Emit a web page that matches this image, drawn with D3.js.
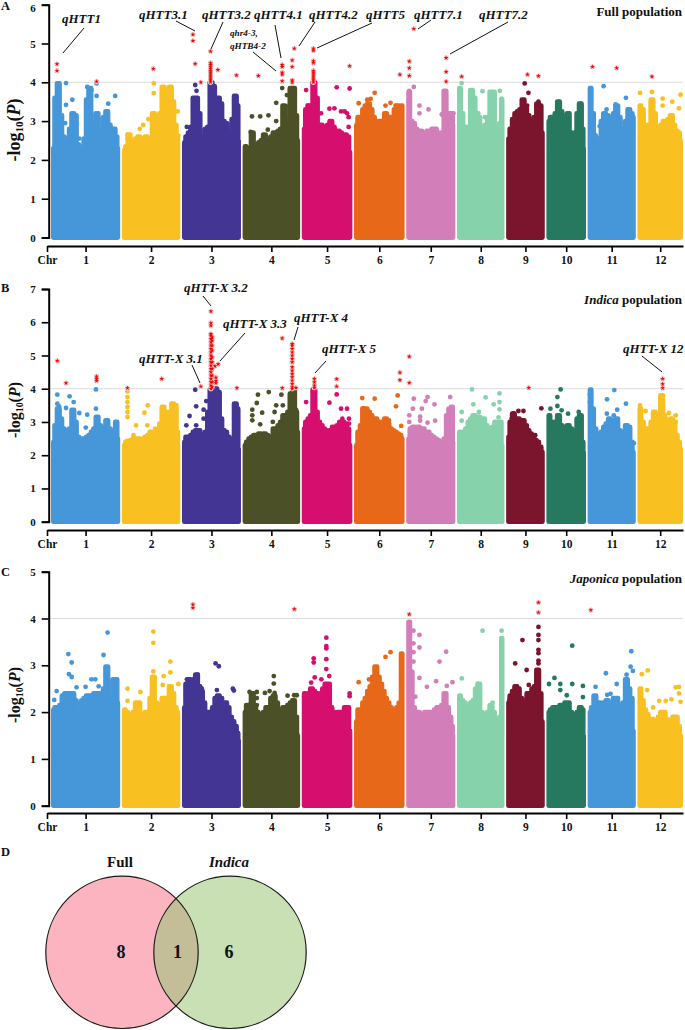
<!DOCTYPE html>
<html><head><meta charset="utf-8">
<script src="https://cdn.jsdelivr.net/npm/d3@7"></script>
<style>html,body{margin:0;padding:0;background:#fff}svg{display:block}text{font-family:"Liberation Serif",serif;font-weight:bold;fill:#111}</style>
</head><body><svg id="c" width="685" height="1030"></svg>
<script>
// Chromosomes (Mb)
const chromosomes = ["1","2","3","4","5","6","7","8","9","10","11","12"];
const chrLengths = [42.8,36.2,36.5,35.6,31.3,31.3,30.4,29.4,23.9,24.5,29.8,28.2];
const binMb = 1.5;

// Top of the dense mass per chromosome, read in consecutive 1.5 Mb windows (-log10 P)
const fullMass = [
 [2.1,2.3,3.6,3.97,3.15,2.6,2.4,2.5,2.8,3.2,3.15,2.4,2.25,2.2,2.55,3.55,3.85,2.9,2.5,3.2,2.7,2.5,3.1,3.25,2.9,2.75,2.8,2.6,2.3],
 [2.2,2.25,2.35,2.65,2.4,2.45,2.55,2.6,2.55,2.45,2.6,2.5,2.55,3.2,2.9,2.75,3.2,3.88,3.5,3.3,3.88,3.5,2.9,2.6,2.45],
 [2.2,2.45,2.6,2.7,2.85,3.6,3.6,3.2,2.6,2.5,2.8,2.85,4.0,3.9,3.3,3.6,3.45,3.0,2.95,2.7,2.4,3.05,3.65,3.4,2.5],
 [2.2,2.35,2.3,2.2,2.7,2.4,2.35,2.45,2.5,2.65,2.5,2.5,2.6,2.7,2.6,2.75,2.8,3.4,2.95,3.0,3.85,3.85,3.15,2.5],
 [2.6,2.8,3.3,3.4,3.2,4.0,3.6,2.9,2.9,2.8,2.85,2.9,3.0,2.85,2.7,2.75,2.7,2.65,2.65,2.6,2.2],
 [2.5,2.9,3.1,3.1,3.3,3.4,3.45,3.3,3.1,3.0,2.9,3.0,3.0,3.2,3.0,3.1,3.1,3.3,3.4,3.35,3.4],
 [3.0,3.75,3.0,2.95,2.8,2.75,2.75,2.7,2.7,2.75,2.75,2.8,2.8,2.7,2.65,2.7,3.78,3.2,3.2,3.2,2.9],
 [2.7,3.85,3.2,2.85,2.8,2.85,3.8,3.6,3.1,3.1,2.8,2.75,2.9,3.1,3.75,3.75,2.8,2.7,2.95,3.55],
 [2.5,2.55,2.8,3.05,3.2,3.25,3.3,3.55,3.35,3.15,3.0,3.0,3.1,3.45,3.4,2.7],
 [2.3,3.0,3.1,3.1,3.2,3.5,3.25,3.1,3.1,3.2,2.7,2.6,2.7,3.2,3.45,2.8,2.3],
 [2.6,3.85,3.2,2.6,2.45,2.5,3.0,3.2,3.15,3.1,3.1,3.2,3.4,3.1,2.8,2.8,3.0,3.3,3.2,3.1],
 [2.6,3.4,3.3,2.9,2.85,2.9,3.55,3.2,2.85,2.8,2.9,3.0,2.9,3.05,3.15,2.9,2.75,2.7,2.5]
];
// Separate points above the mass: [chromosome, position Mb, values...]
const fullDots = [
 [1,9.3,3.98,3.42],[1,13.2,3.55],[1,8.8,2.95],[1,17.5,2.55],[1,22.4,3.88],[1,25,3.8],[1,28.2,3.97,3.65],[1,39.7,3.65],[1,35.4,3.45],
 [2,19.8,3.97,3.72],[2,11.1,2.8],[2,13.2,2.9],[2,16.5,3.05],[2,34.6,3.25],[2,35,2.62],[2,3.5,2.65,2.55],
 [3,8.2,3.93],[3,9,3.78],[3,3,2.85],[3,25.3,3.0],[3,27.4,2.75],[3,29.4,2.48],
 [4,5.8,3.12],[4,10.9,3.12],[4,16,3.15],[4,20.8,3.47,3.0],[4,24.5,3.85],[4,27.4,3.67],[4,29,3.4],[4,15.6,2.78],[4,5,2.72],
 [5,2.7,3.8],[5,3.7,3.4],[5,21.6,3.87],[5,17.1,3.32],[5,20.2,3.33],[5,24.3,3.25],[5,11.9,3.2],[5,26.5,3.25],[5,29.6,3.84],[5,28,3.2],[5,29,3.1,2.85],
 [6,2.9,3.46],[6,8.2,3.55],[6,10.3,3.57],[6,12.8,3.73],[6,19.5,3.4],[6,22.6,3.47],[6,25.7,3.4],[6,24.7,2.85],[6,15.4,3.0],
 [7,4.7,3.88],[7,1.9,3.78],[7,8.2,3.4,3.2],[7,13.8,3.3],[7,22,3.17],[7,29.2,3.2],
 [8,2.9,3.98],[8,15.8,3.77],[8,26.5,3.78],[8,27.6,3.58],[8,17.3,3.1],[8,13.2,3.2],
 [9,11.5,3.97],[9,13.8,3.73],[9,13,3.4],[9,20,3.5],
 [10,7.4,3.49],[10,21.2,3.45],[10,8.4,3.2],
 [11,1.9,3.84],[11,9.9,3.9],[11,11.7,3.3],[11,17.3,3.43],[11,23.7,3.6],[11,5,2.63],[11,7.5,2.87],
 [12,1.6,3.73],[12,9,3.75],[12,15.6,3.58,3.4],[12,21.6,3.5],[12,26.7,3.68],[12,25.7,3.33]
];
// Significant points: [chromosome, position Mb, values...]
const fullHits = [
 [1,3.7,4.47,4.3],[1,28.2,4.02],[2,19.5,4.35],
 [3,6.8,5.23,5.07],[3,8.2,4.48],[3,11.7,4.0],[3,17.7,4.8,4.5,4.45,4.4,4.35,4.3,4.25,4.2,4.15,4.1,4.05,4.0],[3,22.2,4.32],[3,33.7,4.18],
 [4,9.7,4.17],[4,24.5,4.45,4.4,4.25,4.2,4.03],[4,30.7,4.57,4.4,4.05,4.0],[4,32,4.87],
 [5,7.2,4.87,4.82,4.55,4.5,4.3,4.25,4.2,4.15,4.1,4.05,4.0],[5,29.6,4.42],
 [6,28.4,4.2],[7,1.9,4.54,4.37,4.17],[7,4.7,5.38],[7,24.7,4.63,4.27,4.02],
 [8,2.9,4.15],[9,13.2,4.2],[9,20,4.16],[11,3,4.4],[11,18,4.37],[12,9,4.15]
];

const indicaMass = [
 [1.9,2.4,2.9,3.4,3.1,2.8,2.7,2.75,2.8,3.36,3.0,2.55,2.45,2.5,2.4,2.55,2.6,2.7,2.8,3.15,2.9,2.7,2.8,3.05,2.8,2.7,2.6,3.0,2.5],
 [2.0,2.3,2.4,2.4,2.45,2.5,2.5,2.5,2.45,2.5,2.55,2.6,2.7,2.6,2.7,2.7,2.95,3.45,3.3,3.0,3.3,3.55,3.5,2.7,2.3],
 [2.1,2.4,2.55,2.55,2.6,2.7,2.75,2.75,2.6,2.5,2.7,3.3,3.97,3.97,4.0,3.9,3.1,2.75,2.7,2.55,2.45,2.4,3.55,3.4,2.2],
 [2.1,2.3,2.4,2.5,2.55,2.6,2.6,2.65,2.6,2.65,2.6,2.55,2.55,2.8,2.7,2.9,3.0,3.2,3.15,3.3,3.85,3.97,3.3,2.7],
 [2.6,2.8,3.0,3.1,3.2,3.97,3.3,3.0,2.9,2.8,2.75,2.7,2.75,2.85,2.8,2.9,3.0,3.0,2.95,2.8,2.3],
 [2.2,2.3,2.7,2.9,3.41,3.4,3.3,3.2,3.1,3.1,3.0,2.9,3.0,3.1,2.95,2.8,2.75,2.7,2.65,2.6,2.5],
 [2.1,2.5,2.8,2.85,2.8,2.85,2.75,2.8,2.7,2.7,2.6,2.55,2.5,2.45,2.4,2.4,2.5,3.2,3.4,3.45,2.4],
 [2.15,2.7,2.6,2.7,2.8,3.0,3.1,3.2,3.15,3.15,3.1,3.1,2.9,2.8,2.7,2.85,3.0,2.9,3.0,2.3],
 [2.4,2.55,3.0,3.25,3.1,3.1,3.0,3.05,2.9,2.75,2.65,2.6,2.45,2.4,2.25,2.1],
 [2.2,3.2,3.0,2.85,3.0,3.2,2.9,2.7,2.85,2.9,2.8,2.6,2.7,3.1,3.2,2.4,2.1],
 [2.2,3.97,3.4,2.8,2.6,2.6,2.7,2.85,2.95,3.1,3.0,3.05,3.1,2.75,2.6,2.7,2.9,2.85,2.4,2.1],
 [2.3,3.4,3.0,2.75,2.8,2.8,3.0,3.3,3.0,3.0,3.8,3.2,3.0,3.05,3.1,3.0,2.6,2.4,2.2]
];
const indicaDots = [
 [1,3.9,3.82,3.55],[1,5,3.47],[1,9.3,3.42],[1,11.5,3.77],[1,14,3.6],[1,17.5,3.27],[1,22.4,3.22],[1,27.8,3.98,3.4],[1,21.5,2.83],
 [2,3.5,3.92,3.75,3.6,3.45,3.3,3.15],[2,16,3.5],[2,14,3.28],[2,15.8,2.9],[2,8.8,2.9],[2,20.6,2.8],[2,3.3,2.43],[2,7.2,2.6],
 [3,8.2,3.97],[3,8.8,3.47,2.9],[3,4.7,3.18],[3,2.7,2.9],[3,13.4,3.37,3.1],[3,15,3.63],[3,25.7,2.75],
 [4,9.5,3.82],[4,16.2,3.9],[4,24,3.82],[4,20.8,3.5],[4,8.8,3.57],[4,6,3.37,3.2,3.05],[4,12.1,3.28],[4,10.9,2.93],[4,19.8,3.3],[4,18.7,3.0],[4,24.9,3.5],[4,33.1,3.36],
 [5,2.7,3.6],[5,7.8,3.75],[5,17.1,3.58],[5,24.3,3.4],[5,21.6,3.83],[5,25.1,3.1],[5,28,3.4],[5,29.2,3.1,2.95],
 [6,5.1,3.72],[6,12.8,3.7],[6,27,3.8],[6,26,3.47],[6,29.2,2.88],[6,21.6,3.05],
 [7,4.7,3.7],[7,4.1,3.4],[7,9.7,3.4],[7,13.2,3.75],[7,12,3.63],[7,17.5,3.53],[7,27.2,3.75],[7,1.9,3.2,3.0],[7,8.6,3.16,3.04],[7,13.2,2.98],[7,17.9,3.04],
 [8,2.9,3.3,3.04],[8,9.3,3.98],[8,10.1,3.53],[8,13.6,3.3],[8,17.7,3.74],[8,22.7,3.53],[8,26.3,3.86,3.6,3.38],[8,25.7,3.14],
 [9,4.5,3.26],[9,7.6,3.33],[9,10.7,3.33,3.0],[9,3.5,3.1],[9,21.8,3.41],[9,18,2.6],
 [10,8.8,3.98],[10,6.8,3.75,3.48],[10,2.5,3.4],[10,9.4,3.35],[10,13.4,3.25],[10,20,3.3,3.06],
 [11,1.4,3.83,3.6],[11,16.5,3.96],[11,12,3.68],[11,23.7,3.55],[11,11.9,3.25],[11,18.3,3.37],[11,16.2,3.2],[11,28.6,2.36],
 [12,1.6,3.5],[12,5.1,3.33],[12,14.9,3.75],[12,19.5,3.27],[12,23.7,3.2,3.0],[12,11.3,3.05]
];
const indicaHits = [
 [1,3.9,4.84],[1,9.3,4.17],[1,28.2,4.37,4.3,4.24],[2,3.5,4.02],[2,24.7,4.3],
 [3,11.7,4.07],[3,17.9,6.33,5.98,5.9,5.65,5.6,5.5,5.4,5.3,5.2,5.1,5.0,4.9,4.8,4.7,4.6,4.5,4.4,4.3,4.2,4.1,4.0],[3,18.7,5.55,5.45,5.3,5.15,4.95,4.8,4.6,4.4,4.2,4.05],[3,20.4,4.68],[3,22.4,4.74],[3,21,4.34,4.24,4.17],[3,34,4.02],
 [4,24.5,5.52,4.02],[4,30.7,5.35,5.3,5.2,5.1,5.0,4.9,4.8,4.65,4.55,4.45,4.35,4.25,4.15,4.05,4.0],[4,33,4.03],
 [5,7.8,4.3,4.2,4.1,4.03],[5,21.6,4.29,4.07],
 [6,28.4,4.49,4.26],[7,1.9,4.97,4.18],[9,14,4.03],[12,15.6,4.3,4.14,4.02]
];

const japonicaMass = [
 [1.5,2.05,2.1,2.1,2.15,2.35,2.4,2.4,2.4,2.4,2.25,2.05,2.05,2.25,2.3,2.35,2.35,2.3,2.4,2.4,2.4,2.4,2.5,2.97,2.3,2.2,2.7,2.7,2.2],
 [1.5,2.05,2.0,1.9,1.9,2.0,2.2,2.2,1.9,1.95,2.0,2.0,2.3,2.75,2.2,2.1,2.15,2.3,2.3,2.3,2.55,2.4,2.1,2.0,1.9],
 [1.5,2.1,2.6,2.7,2.65,2.7,2.8,2.55,2.45,2.2,2.0,2.0,2.0,2.1,2.3,2.35,2.3,2.2,2.2,2.1,1.9,1.8,1.7,1.55,1.4],
 [1.5,2.0,2.15,2.1,2.4,2.1,2.0,1.95,1.9,2.0,2.1,2.1,2.3,2.35,2.2,2.05,2.0,2.1,2.1,2.15,2.2,2.25,1.9,1.5],
 [1.5,2.4,2.35,2.4,2.5,2.45,2.4,2.35,2.4,2.5,2.6,2.6,2.1,2.0,1.95,2.0,2.0,1.95,2.1,2.1,1.6],
 [1.6,1.8,2.05,2.05,2.2,2.3,2.45,2.55,2.75,2.97,2.75,2.6,2.45,2.3,2.2,2.1,2.0,2.0,2.1,2.2,3.25],
 [2.0,3.93,2.86,2.1,2.0,2.0,1.95,1.95,2.0,2.0,2.0,2.0,2.05,2.1,2.0,2.15,2.4,2.1,1.9,1.7,1.5],
 [1.5,2.35,2.25,2.2,2.05,2.1,2.2,2.25,2.5,2.6,2.0,1.95,1.95,2.0,2.15,2.0,1.85,1.85,1.9,3.58],
 [1.5,2.2,2.35,2.45,2.55,2.5,2.3,2.2,2.1,2.4,2.3,2.5,2.55,2.9,2.4,1.8],
 [1.6,2.0,2.05,2.1,2.1,2.1,2.15,2.15,2.2,2.2,2.0,1.9,1.95,2.0,2.1,2.05,1.5],
 [1.7,2.0,2.1,2.35,2.2,2.2,2.1,2.2,2.25,2.2,2.2,2.3,2.3,2.1,2.0,2.2,2.7,2.5,2.3,1.6],
 [1.5,2.5,2.25,2.05,1.95,1.85,1.85,1.8,1.75,1.9,2.0,2.0,1.85,1.75,1.8,1.9,1.9,1.7,1.5]
];
const japonicaDots = [
 [1,10.7,3.24],[1,12.8,3.06,2.75],[1,11.1,2.81],[1,2,2.26],[1,3.5,2.45],[1,15.8,2.53],[1,21.4,2.54],[1,25,2.7],[1,27.4,2.7],[1,32.5,3.22],[1,35,3.7],[1,29.5,2.55],
 [2,3.5,2.5,2.24],[2,11.5,2.43],[2,19.5,3.72,3.48,2.87],[2,25.9,2.77],[2,30,3.08,2.85],[2,35,2.6],[2,25.3,2.58],
 [3,3.1,2.7],[3,5.8,2.63],[3,9.7,2.8],[3,12.3,2.5],[3,20.8,3.04],[3,22.8,2.98],[3,21.6,2.47],[3,31.5,2.5],[3,32.1,2.46],
 [4,4.3,2.43],[4,8.8,2.43,2.3,2.15],[4,13.8,2.41],[4,16.7,2.45],[4,19.3,2.77,2.61],[4,19.8,2.41],[4,27.8,2.35],[4,31.9,2.36],[4,33.5,2.36],
 [5,7.4,3.15,3.06],[5,8,2.74],[5,5.8,2.63],[5,12.1,2.7],[5,15.2,3.59,3.41,3.36,3.13,2.92],[5,17,2.77],[5,29.6,2.4,2.34],
 [6,2.9,2.64],[6,9.3,2.7],[6,19.5,3.18],[6,22.6,3.28],
 [7,4.5,3.74,3.47,3.28,3.08],[7,8.2,3.65,3.38,2.73],[7,24.7,3.29],[7,20.6,3.08],[7,18.5,2.66],[7,12.8,2.54],[7,28.6,2.64],[7,25.1,2.56],[7,5.6,2.33],
 [8,3,2.72],[8,13,2.6],[8,15.8,3.74],[8,27.6,3.74],[8,22,2.2],
 [9,20,3.82,3.65,3.54,3.33,3.26,3.1,3.04],[9,10.1,3.54],[9,5.6,3.04],[9,12.7,2.9],[9,14,2.58],[9,2.1,2.26],
 [10,1.6,2.6],[10,5,2.73],[10,8.6,2.6,2.47],[10,16,3.42,2.6],[10,22.6,2.56,2.32],[10,12.6,2.36],
 [11,27,3.3],[11,26.6,2.97],[11,28,2.88],[11,24.1,2.8],[11,11.3,2.83],[11,18,2.6],[11,4.9,2.54],[11,12.1,2.37],[11,14.2,2.39],
 [12,2.7,2.81],[12,6.4,2.89],[12,6,2.47],[12,13.5,2.24],[12,17.5,2.24],[12,21,2.27],[12,9.7,2.1],[12,23.7,2.53],[12,25.7,2.54,2.4],[12,26.7,2.22]
];
const japonicaHits = [
 [3,6.8,4.3,4.23],[4,32,4.2],[7,1.9,4.09],[9,20,4.34,4.13],[11,2,4.18]
];

const chrColors = ["#4597D9","#F8C020","#433594","#4C5027","#D60E6E","#E8681A","#D27EB8","#85D2AB","#7B152D","#26785E","#4597D9","#F8C020"];

// Layout
const panels = [
 {mass:fullMass,dots:fullDots,hits:fullHits,yMax:6,top:4.7,y0:237.5,axisY:246,letter:"A",letterY:10,labelY:130,labelSize:18,topDy:"0.62em"},
 {mass:indicaMass,dots:indicaDots,hits:indicaHits,yMax:7,top:289,y0:521.7,axisY:530,letter:"B",letterY:292,labelY:410,labelSize:16,topDy:"0.32em"},
 {mass:japonicaMass,dots:japonicaDots,hits:japonicaHits,yMax:5,top:571.7,y0:805.7,axisY:813,letter:"C",letterY:576,labelY:695,labelSize:16,topDy:"0.32em"}
];
const GAP=1, R=2.4;
const offsets=[]; chrLengths.reduce((acc,l,i)=>{offsets[i]=acc;return acc+l+GAP;},0);
const total=d3.sum(chrLengths)+GAP*(chrLengths.length-1);
const xScale=d3.scaleLinear().domain([0,total]).range([51,683]);
const leftMb=xScale.invert(47);
const xAxisScale=d3.scaleLinear().domain([leftMb,total]).range([47,683]);
const svg=d3.select("#c");

panels.forEach(p=>{
  const y=d3.scaleLinear().domain([0,p.yMax]).range([p.y0,p.top]);
  const g=svg.append("g");
  const clampMb=R/((683-51)/total);
  const gx=(i,pos)=>xScale(offsets[i]+pos);
  g.append("line").attr("x1",48).attr("x2",683).attr("y1",y(4)).attr("y2",y(4)).attr("stroke","#dcdcdc").attr("stroke-width",1);
  // dense mass: one top value for every window of a chromosome
  p.mass.forEach((tops,i)=>{
    const L=chrLengths[i];
    const cl=tops.map((v,k)=>[Math.max(clampMb,Math.min(L-clampMb,k*binMb)),v]);
    const area=d3.area().curve(d3.curveStep).x(d=>gx(i,d[0])).y0(y(0)).y1(d=>y(d[1]));
    g.append("path").attr("d",area(cl)).attr("fill",chrColors[i]).attr("stroke",chrColors[i]).attr("stroke-width",R*2).attr("stroke-linejoin","round");
  });
  const dotData=p.dots.flatMap(d=>d.slice(2).map(v=>({c:d[0]-1,pos:d[1],v})));
  g.selectAll("circle.dot").data(dotData).join("circle").attr("class","dot")
    .attr("cx",d=>gx(d.c,d.pos)).attr("cy",d=>y(d.v)).attr("r",R).attr("fill",d=>chrColors[d.c]);
  const hitData=p.hits.flatMap(d=>d.slice(2).map(v=>({c:d[0]-1,pos:d[1],v})));
  g.selectAll("circle.halo").data(hitData).join("circle").attr("class","halo")
    .attr("cx",d=>gx(d.c,d.pos)).attr("cy",d=>y(d.v)).attr("r",2.6).attr("fill","#e2cfcf");
  const star=d3.symbol().type(d3.symbolStar).size(7);
  g.selectAll("path.hit").data(hitData).join("path").attr("class","hit").attr("d",star)
    .attr("transform",d=>`translate(${gx(d.c,d.pos)},${y(d.v)})`).attr("fill","#f00");
  // y axis
  const ya=g.append("g").attr("transform","translate(48.7,0)").call(d3.axisLeft(y).ticks(p.yMax).tickSize(7).tickPadding(6).tickFormat(d3.format("d")));
  ya.select(".domain").attr("stroke","#000").attr("stroke-width",2);
  ya.selectAll("line").attr("stroke","#000").attr("stroke-width",1.6);
  ya.selectAll("text").style("font-size","11px").style("font-family","Liberation Serif").style("font-weight","bold");
  ya.selectAll("text").filter(d=>d===p.yMax).attr("dy",p.topDy);
  // x axis
  const mids=chromosomes.map((c,i)=>offsets[i]+chrLengths[i]/2);
  const xa=g.append("g").attr("transform",`translate(0,${p.axisY})`).call(
    d3.axisBottom(xAxisScale).tickValues([leftMb,...mids]).tickSizeOuter(0).tickSizeInner(6).tickPadding(4)
      .tickFormat((d,i)=>i===0?"Chr":chromosomes[i-1]));
  xa.select(".domain").attr("stroke","#000").attr("stroke-width",2);
  xa.selectAll("line").attr("stroke","#000").attr("stroke-width",1.6);
  xa.selectAll("text").style("font-size","11.5px").style("font-family","Liberation Serif").style("font-weight","bold");
  // y label
  const t=g.append("text").attr("transform",`translate(20,${p.labelY}) rotate(-90)`).attr("text-anchor","middle").attr("font-size",p.labelSize);
  t.append("tspan").text("-log");
  t.append("tspan").text("10").attr("font-size",p.labelSize*0.62).attr("dy",3);
  t.append("tspan").text("(").attr("dy",-3);
  t.append("tspan").text("P").attr("font-style","italic");
  t.append("tspan").text(")");
  svg.append("text").attr("x",1).attr("y",p.letterY).attr("font-size",12.5).text(p.letter);
});

// Annotations
const qtlLabels=[
 ["qHTT1",62,23,13],["qHTT3.1",139,19,13],["qHTT3.2",202,19,13],["qHTT4.1",254,19,13],["qHTT4.2",309,19,13],["qHTT5",366,19,13],["qHTT7.1",414,19,13],["qHTT7.2",479,19,13],
 ["qhr4-3,",230,36,9.2],["qHTB4-2",230,49,9.2],
 ["qHTT-X 3.2",184,292,13],["qHTT-X 3.3",223,328,13],["qHTT-X 4",294,322,13],["qHTT-X 3.1",139,363,13],["qHTT-X 5",322,353,13],["qHTT-X 12",623,353,13]
];
svg.selectAll("text.qtl").data(qtlLabels).join("text").attr("class","qtl").attr("x",d=>d[1]).attr("y",d=>d[2]).attr("font-size",d=>d[3]).attr("font-style","italic").text(d=>d[0]);
const leaders=[
 [84,28,63,53],[176,21,195,31],[223,22,211,49],[275,25,281,58],[315,22,299,46],[317,48,372,23],[418,29,431,20],[450,54,508,22],[253,52,276,71],
 [203,296,211,306],[245,333,220,361],[298,327,294,340],[192,365,200,383],[326,361,315,373],[642,356,662,372]
];
svg.selectAll("line.lead").data(leaders).join("line").attr("class","lead").attr("x1",d=>d[0]).attr("y1",d=>d[1]).attr("x2",d=>d[2]).attr("y2",d=>d[3]).attr("stroke","#111").attr("stroke-width",1);

function popTitle(yPos,italicPart,rest){
  const t=svg.append("text").attr("x",682).attr("y",yPos).attr("text-anchor","end").attr("font-size",13);
  if(italicPart) t.append("tspan").attr("font-style","italic").text(italicPart+" ");
  t.append("tspan").text(rest);
}
popTitle(16,"","Full population");popTitle(304,"Indica","population");popTitle(583,"Japonica","population");

// Venn
const vennSets=["Full","Indica"];
const vennCounts=[8,1,6];
const cy=952.3,r=76.2,c1=122,c2=230;
const venn=svg.append("g");
venn.append("circle").attr("cx",c1).attr("cy",cy).attr("r",r).attr("fill","#FBB4C0");
venn.append("circle").attr("cx",c2).attr("cy",cy).attr("r",r).attr("fill","#C8E0B4");
const h=Math.sqrt(r*r-((c2-c1)/2)**2),mx=(c1+c2)/2;
venn.append("path").attr("d",`M${mx},${cy-h}A${r},${r} 0 0 1 ${mx},${cy+h}A${r},${r} 0 0 1 ${mx},${cy-h}Z`).attr("fill","#C3BD98");
[c1,c2].forEach(c=>venn.append("circle").attr("cx",c).attr("cy",cy).attr("r",r).attr("fill","none").attr("stroke","#1a1a1a").attr("stroke-width",1.2));
venn.append("text").attr("x",120).attr("y",867).attr("text-anchor","middle").attr("font-size",15).text(vennSets[0]);
venn.append("text").attr("x",229).attr("y",867).attr("text-anchor","middle").attr("font-size",15).attr("font-style","italic").text(vennSets[1]);
[121,177.5,229].forEach((x,i)=>venn.append("text").attr("x",x).attr("y",958).attr("text-anchor","middle").attr("font-size",18).text(vennCounts[i]));
svg.append("text").attr("x",1).attr("y",856).attr("font-size",12.5).text("D");
</script></body></html>
